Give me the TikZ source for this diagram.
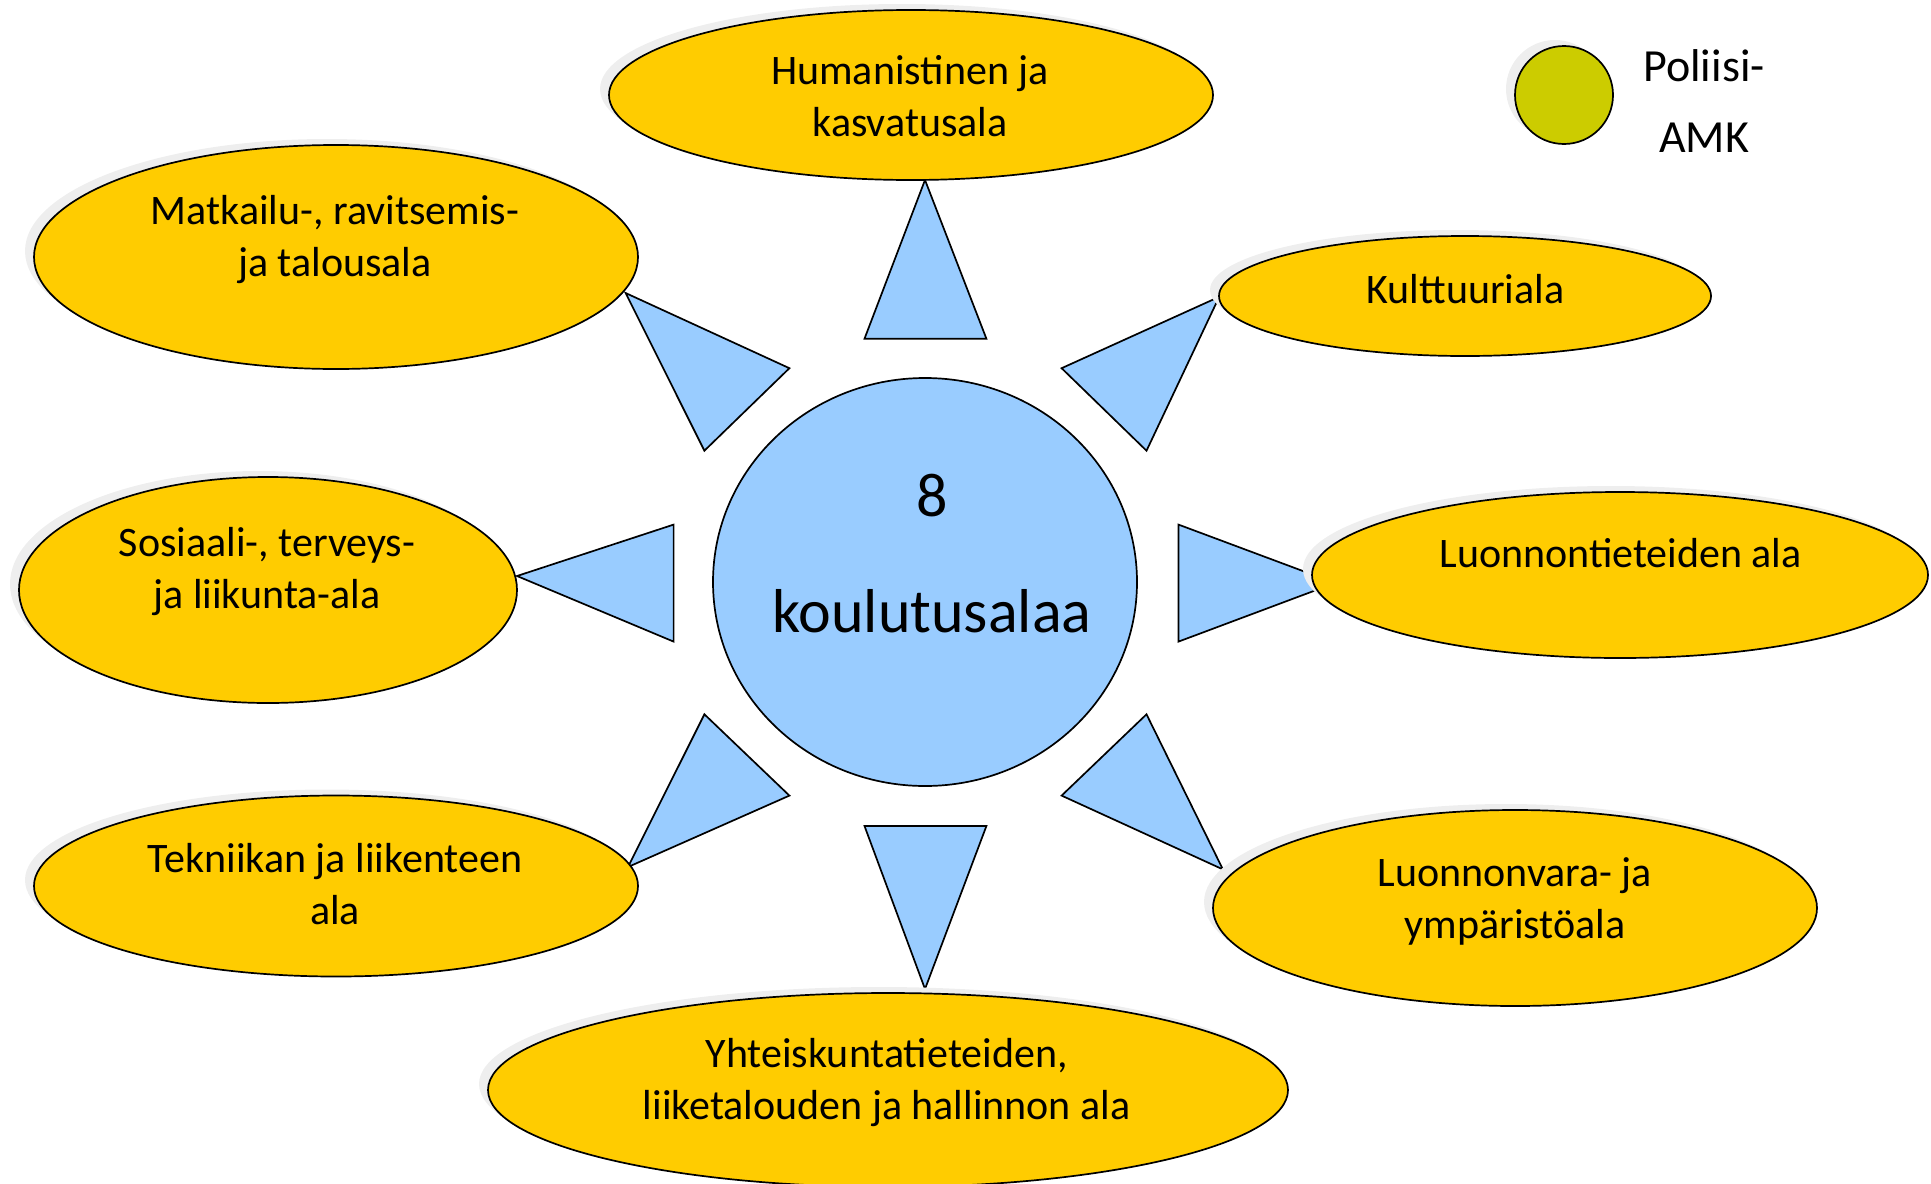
\documentclass[tikz,border=0pt]{standalone}
\usepackage{fontspec}
\setmainfont{Carlito}
\usepackage{tikz}
\usetikzlibrary{shapes.geometric,shadows,positioning}
\definecolor{alayellow}{HTML}{FFCC00}
\definecolor{hubblue}{HTML}{99CCFF}
\definecolor{polgreen}{HTML}{CCCC00}
\definecolor{shadegray}{HTML}{EEEEEE}

\begin{document}
\begin{tikzpicture}[x=0.5pt, y=-0.5pt,
  field/.style={ellipse, draw=black, line width=0.85pt, fill=alayellow, inner sep=0pt,
    general shadow={fill=shadegray, shadow xshift=-4.5pt, shadow yshift=3pt}},
  fieldtext/.style={align=center, font=\fontsize{21}{26}\selectfont},
  ray/.style={draw=black, line width=0.85pt, fill=hubblue, line join=miter}]
  \useasboundingbox (0,0) rectangle (1931,1183);
  % Rays round the hub
  \draw[ray] (925,180) -- (864.5,338.7) -- (986.4,338.7) -- cycle;
  \draw[ray] (925,989) -- (864.5,826) -- (986.4,826) -- cycle;
  \draw[ray] (517,576) -- (673.6,524.6) -- (673.6,641.6) -- cycle;
  \draw[ray] (1335,583) -- (1178.5,524.6) -- (1178.5,641.6) -- cycle;
  \draw[ray] (625.6,293) -- (704.4,450.7) -- (789.4,368.2) -- cycle;
  \draw[ray] (1219.2,296.8) -- (1061.6,368.2) -- (1146.5,450.7) -- cycle;
  \draw[ray] (628,867) -- (704.4,714.3) -- (789.4,795.6) -- cycle;
  \draw[ray] (1222.9,869.4) -- (1061.6,795.6) -- (1146.5,714.3) -- cycle;
  % Hub
  \node[ellipse, draw=black, line width=0.85pt, fill=hubblue, inner sep=0pt,
    minimum width=212pt, minimum height=204pt] (hub) at (925,582) {};
  \node[align=center, font=\fontsize{31}{38}\selectfont] (hubtext) at (932,554)
    {8\\[20pt]koulutusalaa};
  % Fields
  \node[field, minimum width=302pt, minimum height=85pt] (hum) at (911,95) {};
  \node[fieldtext] (humtext) at (910,96) {Humanistinen ja\\kasvatusala};
  \node[field, minimum width=302pt, minimum height=112pt] (mat) at (336,257) {};
  \node[fieldtext] (mattext) at (335,239.5) {Matkailu-, ravitsemis-\\ja talousala};
  \node[field, minimum width=246pt, minimum height=60pt] (kul) at (1465,296) {};
  \node[fieldtext] (kultext) at (1465.5,289.4) {Kulttuuriala};
  \node[field, minimum width=249pt, minimum height=113pt] (sos) at (268,590) {};
  \node[fieldtext] (sostext) at (267,572) {Sosiaali-, terveys-\\ja liikunta-ala};
  \node[field, minimum width=308pt, minimum height=83pt] (luo) at (1620,575) {};
  \node[fieldtext] (luotext) at (1620.6,553) {Luonnontieteiden ala};
  \node[field, minimum width=302pt, minimum height=90.5pt] (tek) at (336,886) {};
  \node[fieldtext] (tektext) at (335,884) {Tekniikan ja liikenteen\\ala};
  \node[field, minimum width=302pt, minimum height=98pt] (ymp) at (1515,908) {};
  \node[fieldtext] (ymptext) at (1515,901.5) {Luonnonvara- ja\\ympäristöala};
  \node[field, minimum width=400pt, minimum height=97pt] (yht) at (888,1090) {};
  \node[fieldtext] (yhttext) at (886.7,1082.5)
    {Yhteiskuntatieteiden,\\liiketalouden ja hallinnon ala};
  % Poliisi-AMK
  \node[circle, draw=black, line width=0.85pt, fill=polgreen, inner sep=0pt,
    minimum size=49pt,
    general shadow={fill=shadegray, shadow xshift=-4.5pt, shadow yshift=3pt}]
    (pol) at (1564,95) {};
  \node[align=center, font=\fontsize{23}{35.7}\selectfont] (poltext) at (1704,101)
    {Poliisi-\\AMK};
\end{tikzpicture}
\end{document}
